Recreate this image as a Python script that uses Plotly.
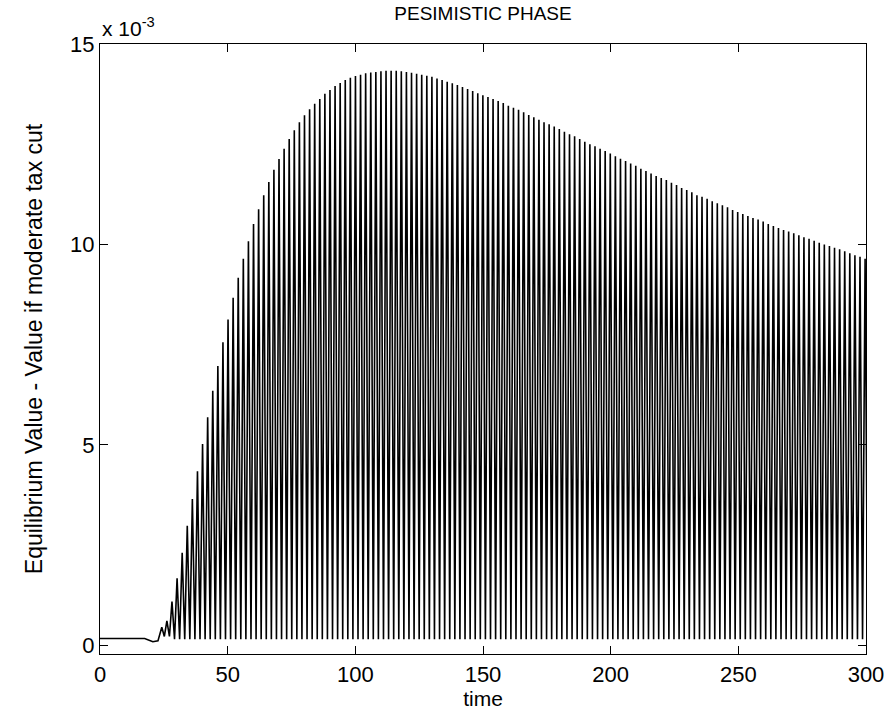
import plotly.graph_objects as go

# ---- data (values in units of 1e-3) ----
pre_time = [0.0, 17.5, 20.7, 22.7]
pre_value = [0.17, 0.17, 0.09, 0.11]

first_peak_time = 24.2
cycle = 1.996          # time between successive peaks
trough_value = 0.15

peak_values = [
    0.45, 0.61, 1.09, 1.67, 2.31, 2.98, 3.65, 4.34, 5.02,
    5.69, 6.35, 6.97, 7.56, 8.13, 8.67, 9.17, 9.64, 10.08, 10.51, 10.88, 11.23,
    11.56, 11.86, 12.13, 12.39, 12.63, 12.85, 13.05, 13.22, 13.37, 13.51, 13.63,
    13.76, 13.85, 13.95, 14.03, 14.10, 14.16, 14.20,
    14.23, 14.27, 14.29, 14.30, 14.32, 14.33, 14.33, 14.33, 14.32, 14.30, 14.28,
    14.26, 14.23, 14.21, 14.18, 14.14, 14.10, 14.06, 14.02, 13.98, 13.93, 13.88,
    13.83, 13.77, 13.72, 13.68, 13.63, 13.58, 13.53,
    13.46, 13.41, 13.36, 13.30, 13.23, 13.17, 13.11, 13.05, 13.00, 12.94, 12.88,
    12.81, 12.75, 12.70, 12.63, 12.56, 12.50, 12.45,
    12.39, 12.33, 12.27, 12.20, 12.14, 12.08, 12.02, 11.96, 11.89, 11.83,
    11.77, 11.71, 11.66, 11.61, 11.54, 11.48, 11.41, 11.36, 11.30, 11.23,
    11.19, 11.14, 11.08, 11.03, 10.98, 10.93, 10.86, 10.81, 10.76, 10.71,
    10.66, 10.62, 10.57, 10.51, 10.46, 10.41, 10.36, 10.32, 10.28, 10.23,
    10.18, 10.14, 10.09, 10.04, 10.00, 9.96, 9.92, 9.88, 9.83, 9.78,
    9.73, 9.69, 9.64,
]

x_ticks = [0, 50, 100, 150, 200, 250, 300]
y_ticks = [0, 5, 10, 15]
y_tick_labels = ["0", "5", "10", "15"]

# ---- build the oscillating series: peak, then trough half a cycle later ----
t = list(pre_time)
v = list(pre_value)
for k, pv in enumerate(peak_values):
    tp = first_peak_time + k * cycle
    t.append(tp)
    v.append(pv)
    t.append(tp + cycle / 2)
    v.append(trough_value if k > 1 else 0.22)

FONT = "Liberation Sans, Arial, Helvetica, sans-serif"

fig = go.Figure()
fig.add_trace(go.Scatter(x=t, y=v, mode="lines",
                         line=dict(color="black", width=1.6),
                         showlegend=False, hoverinfo="skip"))

axis_common = dict(showline=True, linecolor="black", linewidth=1.3,
                   mirror="ticks", ticks="inside", ticklen=8, tickcolor="black",
                   tickwidth=1, showgrid=False, zeroline=False,
                   tickfont=dict(family=FONT, size=22, color="black"))

fig.update_xaxes(range=[0, 300], tickvals=x_ticks,
                 title=dict(text="time", font=dict(family=FONT, size=21, color="black"),
                            standoff=3),
                 **axis_common)
fig.update_yaxes(range=[-0.217, 15], tickvals=y_ticks, ticktext=y_tick_labels,
                 title=dict(text="Equilibrium Value - Value if moderate tax cut",
                            font=dict(family=FONT, size=23, color="black"), standoff=20),
                 **axis_common)

fig.update_layout(
    width=896, height=719,
    margin=dict(l=100, r=24, t=44, b=65),
    paper_bgcolor="white", plot_bgcolor="white",
    title=dict(text="PESIMISTIC PHASE", x=0.5, xref="paper", xanchor="center",
               y=0.982, yanchor="middle", yref="container",
               font=dict(family=FONT, size=19, color="black")),
    annotations=[dict(text="x 10<sup>-3</sup>", xref="paper", yref="paper",
                      x=0, y=1, xanchor="left", yanchor="bottom", yshift=2,
                      showarrow=False,
                      font=dict(family=FONT, size=21, color="black"))],
)

fig.write_html("out.html")
